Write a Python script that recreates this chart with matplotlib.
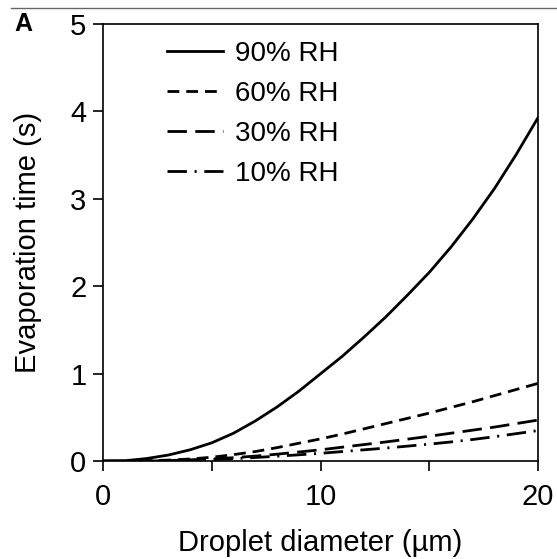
import matplotlib.pyplot as plt
from matplotlib.ticker import MultipleLocator

plt.rcParams['font.family'] = ['Liberation Sans', 'DejaVu Sans']
plt.rcParams['lines.scale_dashes'] = False

# droplet diameter (um) and evaporation time (s)
diameter = [0, 1, 2, 3, 4, 5, 6, 7, 8, 9, 10, 11, 12, 13, 14, 15, 16, 17, 18, 19, 20]
rh90 = [0, 0.005, 0.03, 0.07, 0.13, 0.21, 0.32, 0.46, 0.62, 0.80, 1.00, 1.20, 1.42, 1.65, 1.90, 2.16, 2.45, 2.77, 3.12, 3.51, 3.93]
rh60 = [0, 0.001, 0.005, 0.012, 0.025, 0.045, 0.075, 0.11, 0.155, 0.205, 0.255, 0.31, 0.37, 0.43, 0.49, 0.55, 0.615, 0.68, 0.75, 0.82, 0.89]
rh30 = [0, 0.001, 0.003, 0.007, 0.015, 0.025, 0.04, 0.058, 0.08, 0.105, 0.13, 0.16, 0.19, 0.22, 0.252, 0.285, 0.32, 0.355, 0.39, 0.43, 0.47]
rh10 = [0, 0.001, 0.002, 0.005, 0.01, 0.018, 0.028, 0.042, 0.057, 0.073, 0.09, 0.11, 0.13, 0.15, 0.172, 0.195, 0.22, 0.248, 0.28, 0.315, 0.35]
labels = ['90% RH', '60% RH', '30% RH', '10% RH']

fig = plt.figure(figsize=(5.57, 5.59), dpi=100)
ax = fig.add_axes([0.185, 0.175, 0.781, 0.782])

ax.plot(diameter, rh90, color='black', lw=2.0, linestyle='-', label=labels[0])
ax.plot(diameter, rh60, color='black', lw=2.0, linestyle=(0, (8.5, 5)), label=labels[1])
ax.plot(diameter, rh30, color='black', lw=2.0, linestyle=(0, (14, 6)), label=labels[2])
ax.plot(diameter, rh10, color='black', lw=2.0, linestyle=(0, (14, 5.5, 1.5, 5.5)), label=labels[3])

ax.set_xlim(0, 20)
ax.set_ylim(0, 5)
ax.xaxis.set_major_locator(MultipleLocator(10))
ax.xaxis.set_minor_locator(MultipleLocator(5))
ax.yaxis.set_major_locator(MultipleLocator(1))
ax.tick_params(axis='both', which='both', direction='out', length=7, width=1.2,
               labelsize=21, pad=5, top=False, right=False)
ax.tick_params(axis='x', which='major', pad=9)
for s in ax.spines.values():
    s.set_linewidth(1.2)

ax.set_xlabel('Droplet diameter (\u00b5m)', fontsize=21, labelpad=13)
ax.set_ylabel('Evaporation time (s)', fontsize=21, labelpad=20)

ax.legend(loc='upper left', bbox_to_anchor=(0.09, 1.018), frameon=False, fontsize=20,
          handlelength=2.0, handletextpad=0.45, labelspacing=0.5)

fig.text(0.025, 0.957, 'A', fontsize=18, fontweight='bold', va='center')
fig.add_artist(plt.Line2D([0.02, 1.0], [0.986, 0.986], color='#666666', lw=1.0))

plt.savefig('out.png', dpi=100)
